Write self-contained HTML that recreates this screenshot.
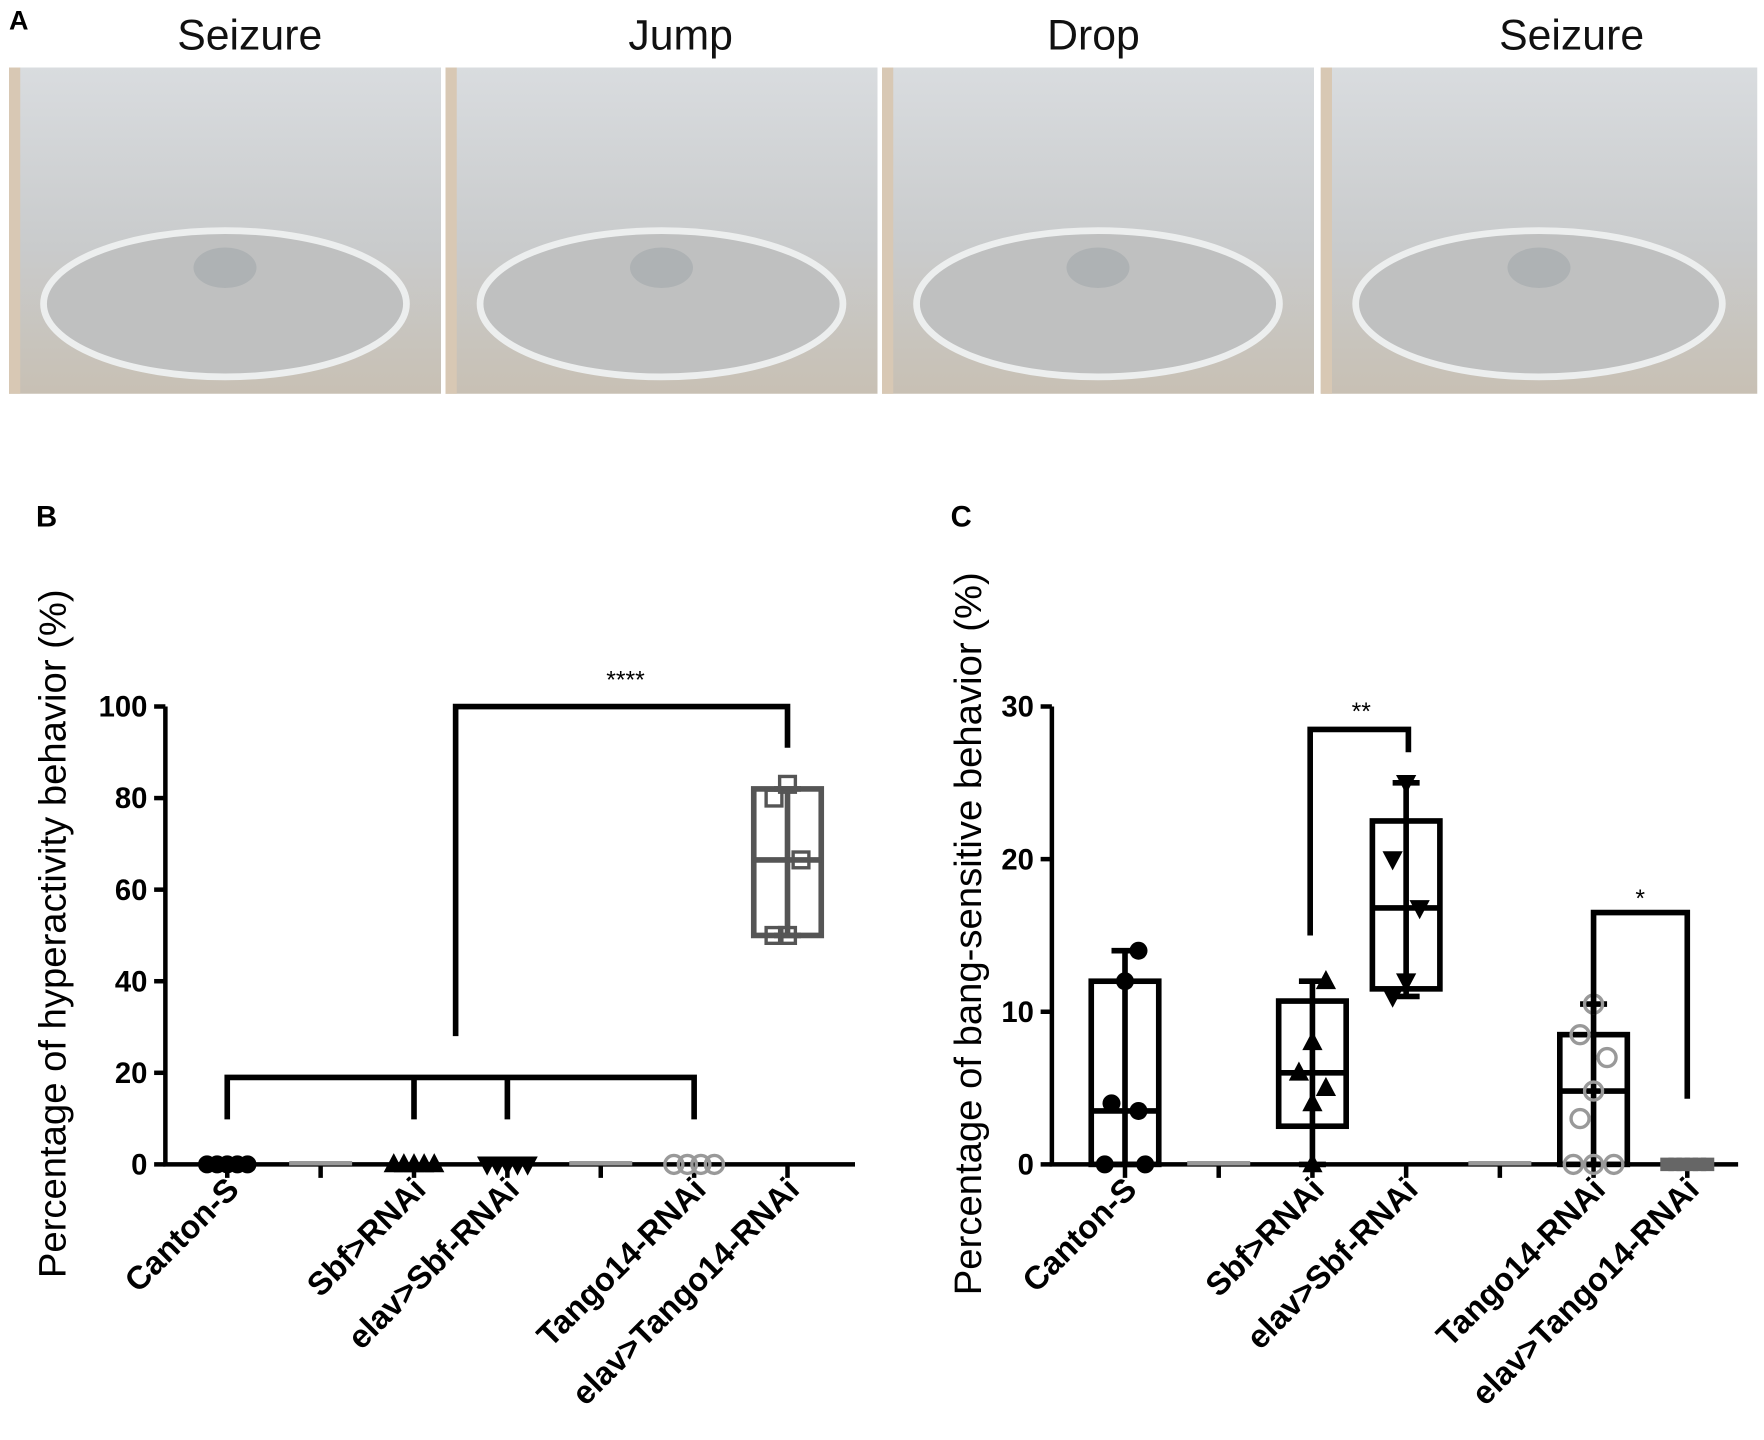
<!DOCTYPE html>
<html><head><meta charset="utf-8"><style>
html,body{margin:0;padding:0;background:#fff;}
svg{display:block;font-family:"Liberation Sans",Arial,sans-serif;}
</style></head><body>
<svg id="fig" width="1764" height="1440" viewBox="0 0 1568 1280">
<defs>
<linearGradient id="tube" x1="0" y1="0" x2="0" y2="1">
<stop offset="0" stop-color="#d9dcdf"/><stop offset="0.55" stop-color="#c9cbcc"/><stop offset="1" stop-color="#c8c0b4"/>
</linearGradient>
</defs>
<g>
<text x="8" y="26" font-size="24" font-weight="bold">A</text>
<g id="photos"></g>
</g>
<g id="panelB">
<text x="32" y="468" font-size="26" font-weight="bold">B</text>
</g>
<g id="panelC">
<text x="845" y="468" font-size="26" font-weight="bold">C</text>
</g>
</svg>
<script>
const NS='http://www.w3.org/2000/svg';
function mk(parent,tag,attrs){const e=document.createElementNS(NS,tag);for(const k in attrs)e.setAttribute(k,attrs[k]);parent.appendChild(e);return e;}

const photoTitles=['Seizure','Jump','Drop','Seizure'];
const photoX=[8,396,784,1174];
const photoW=[384,384,384,388];
const titleX=[222,605,972,1397];
const pg=document.getElementById('photos');
photoTitles.forEach((t,i)=>{
  const g=mk(pg,'g',{});
  
  
  mk(g,'rect',{x:photoX[i],y:60,width:photoW[i],height:290,fill:'url(#tube)'});
  mk(g,'rect',{x:photoX[i],y:60,width:10,height:290,fill:'#d8c8b4'});
  mk(g,'ellipse',{cx:photoX[i]+photoW[i]/2,cy:270,rx:photoW[i]*0.42,ry:65,fill:'#bfc0c0',stroke:'#eceeee','stroke-width':6});
  mk(g,'ellipse',{cx:photoX[i]+photoW[i]/2,cy:238,rx:28,ry:18,fill:'#aeb2b4'});
  const tt=mk(g,'text',{x:titleX[i],y:44,'font-size':38,'text-anchor':'middle',fill:'#111'});
  tt.textContent=t;
  
  
});

// ---- Panel B data ----
const catsB=['Canton-S','','Sbf>RNAi','elav>Sbf-RNAi','','Tango14-RNAi','elav>Tango14-RNAi'];
const ticksB=[0,20,40,60,80,100];
const ptsB=[[0,0,0,0,0],[],[0,0,0,0,0],[0,0,0,0,0],[],[0,0,0,0],[50,50,66.5,80,83]];
const boxB=[null,null,null,null,null,null,[50,50,66.5,82,82]];
// ---- Panel C data ----
const catsC=['Canton-S','','Sbf>RNAi','elav>Sbf-RNAi','','Tango14-RNAi','elav>Tango14-RNAi'];
const ticksC=[0,10,20,30];
const ptsC=[[0,0,3.5,4,12,14],[],[0,4,5,6,8,12],[11,12,16.8,20,25],[],[0,0,0,3,4.8,7,8.5,10.5],[0,0,0,0,0,0]];
const boxC=[[0,0,3.5,12,14],null,[0,2.5,6,10.7,12],[11,11.5,16.8,22.5,25],null,[0,0,4.8,8.5,10.5],null];

function drawPanel(gid,cfg){
  const g=document.getElementById(gid);
  const {x0,x1,y0,y1,ymax,cats,ticks,pts,box,first,step,title,titleX,marks,colors}=cfg;
  const ys=v=>y0-(v/ymax)*(y0-y1);
  const xs=i=>first+i*step;
  const ax=mk(g,'path',{d:`M${x0} ${y1} V${y0} H${x1}`,stroke:'#000','stroke-width':4,fill:'none'});
  
  ticks.forEach(t=>{
    mk(g,'line',{x1:x0-10,x2:x0,y1:ys(t),y2:ys(t),stroke:'#000','stroke-width':4});
    const tx=mk(g,'text',{x:x0-16,y:ys(t)+9,'font-size':26,'font-weight':'bold','text-anchor':'end'});
    tx.textContent=t;
    
    
  });
  const yt=mk(g,'text',{transform:`translate(${titleX},830) rotate(-90)`,'font-size':34,'text-anchor':'middle'});
  yt.textContent=title;
  
  
  cats.forEach((c,i)=>{
    const x=xs(i);
    mk(g,'line',{x1:x,x2:x,y1:y0,y2:y0+12,stroke:'#000','stroke-width':4});
    if(c){
      const lt=mk(g,'text',{transform:`translate(${x+12},${y0+24}) rotate(-45)`,'font-size':29,'font-weight':'bold','text-anchor':'end'});
      lt.textContent=c;
      
      
    } else {
      mk(g,'line',{x1:x-28,x2:x+28,y1:y0-1,y2:y0-1,stroke:'#999','stroke-width':4});
    }
    const b=box[i];
    if(b){
      const col=colors[i];
      const bx=mk(g,'g',{});
      
      
      mk(bx,'line',{x1:x,x2:x,y1:ys(b[0]),y2:ys(b[4]),stroke:col,'stroke-width':5});
      mk(bx,'line',{x1:x-12,x2:x+12,y1:ys(b[4]),y2:ys(b[4]),stroke:col,'stroke-width':5});
      mk(bx,'line',{x1:x-12,x2:x+12,y1:ys(b[0]),y2:ys(b[0]),stroke:col,'stroke-width':5});
      mk(bx,'rect',{x:x-30,y:ys(b[3]),width:60,height:ys(b[1])-ys(b[3]),fill:'none',stroke:col,'stroke-width':5});
      mk(bx,'line',{x1:x-30,x2:x+30,y1:ys(b[2]),y2:ys(b[2]),stroke:col,'stroke-width':5});
    }
    const p=pts[i];
    const zeros=p.filter(v=>v===0).length;let zi=0;
    p.forEach((v,j)=>{
      let px;
      if(v===0){px=x+(zeros>1?(zi/(zeros-1)-0.5)*36:0);zi++;}
      else px=x+((j%3)-1)*12;
      const py=ys(v);
      const m=marks[i];let e;
      if(m==='circle')e=mk(g,'circle',{cx:px,cy:py,r:8,fill:'#000'});
      else if(m==='ocircle')e=mk(g,'circle',{cx:px,cy:py,r:8,fill:'none',stroke:'#999','stroke-width':3});
      else if(m==='tri')e=mk(g,'path',{d:`M${px} ${py-10} L${px+9} ${py+7} L${px-9} ${py+7}Z`,fill:'#000'});
      else if(m==='itri')e=mk(g,'path',{d:`M${px} ${py+10} L${px+9} ${py-7} L${px-9} ${py-7}Z`,fill:'#000'});
      else if(m==='osq')e=mk(g,'rect',{x:px-7,y:py-7,width:14,height:14,fill:'none',stroke:'#555','stroke-width':3});
      else e=mk(g,'rect',{x:px-6,y:py-6,width:12,height:12,fill:'#666'});
      
      
    });
  });
  return {ys,xs};
}

const B=drawPanel('panelB',{x0:147,x1:760,y0:1035,y1:628,ymax:100,cats:catsB,ticks:ticksB,pts:ptsB,box:boxB,first:202,step:83,
  title:'Percentage of hyperactivity behavior (%)',titleX:58,marks:['circle','','tri','itri','','ocircle','osq'],colors:['#000','#000','#000','#000','#000','#000','#555']});
const gB=document.getElementById('panelB');
const brB=mk(gB,'path',{d:`M${B.xs(0)} ${B.ys(0)-40} V${B.ys(19)} H${B.xs(5)} V${B.ys(0)-40} M${B.xs(2)} ${B.ys(19)} V${B.ys(0)-40} M${B.xs(3)} ${B.ys(19)} V${B.ys(0)-40} M405 ${B.ys(28)} V${B.ys(100)} H${B.xs(6)} V${B.ys(91)}`,stroke:'#000','stroke-width':5,fill:'none'});


const sB=mk(gB,'text',{x:556,y:612,'font-size':22,'text-anchor':'middle'});sB.textContent='****';



const C=drawPanel('panelC',{x0:935,x1:1545,y0:1035,y1:628,ymax:30,cats:catsC,ticks:ticksC,pts:ptsC,box:boxC,first:1000,step:83.3,
  title:'Percentage of bang-sensitive behavior (%)',titleX:872,marks:['circle','','tri','itri','','ocircle','sq'],colors:['#000','#000','#000','#000','#000','#000','#000']});
const gC=document.getElementById('panelC');
const brC1=mk(gC,'path',{d:`M${C.xs(2)-2} ${C.ys(15)} V${C.ys(28.5)} H${C.xs(3)+2} V${C.ys(27)}`,stroke:'#000','stroke-width':5,fill:'none'});


const s1=mk(gC,'text',{x:1210,y:640,'font-size':22,'text-anchor':'middle'});s1.textContent='**';


const brC2=mk(gC,'path',{d:`M${C.xs(5)} ${C.ys(9.8)} V${C.ys(16.5)} H${C.xs(6)} V${C.ys(4.3)}`,stroke:'#000','stroke-width':5,fill:'none'});


const s2=mk(gC,'text',{x:1458,y:806,'font-size':22,'text-anchor':'middle'});s2.textContent='*';


</script>
</body></html>
